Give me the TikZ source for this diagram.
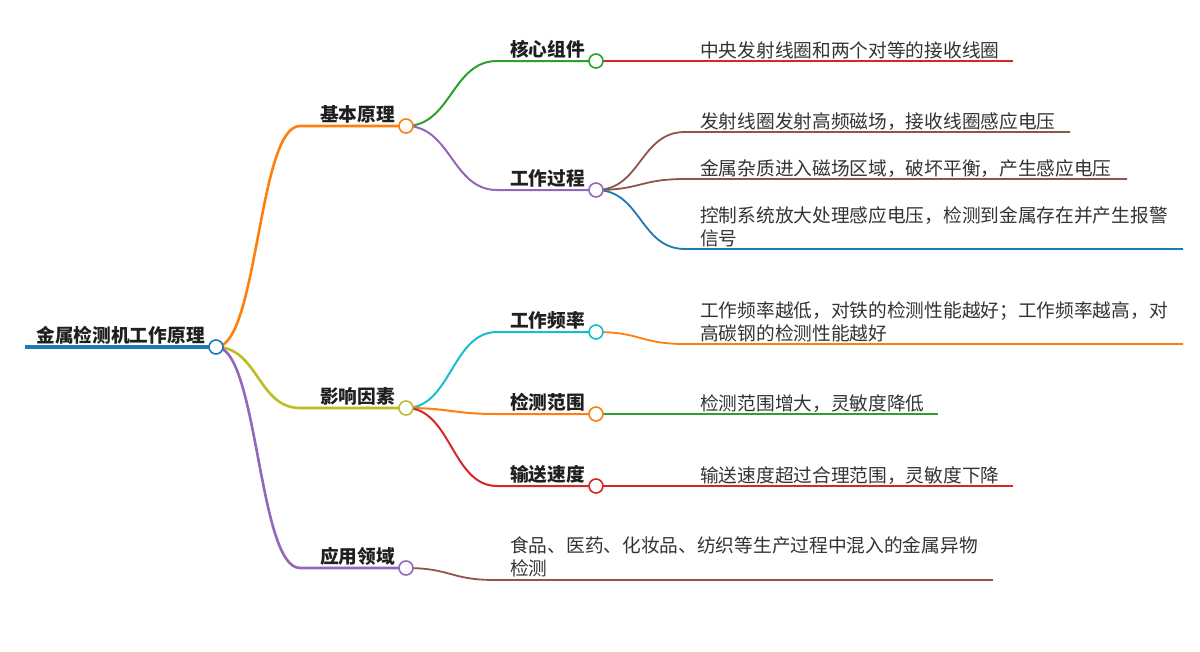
\documentclass[tikz,border=0pt]{standalone}
\usepackage{fontspec}
\setmainfont{Noto Sans CJK SC}
\usetikzlibrary{backgrounds}
\definecolor{tblue}{RGB}{31,119,180}
\definecolor{torange}{RGB}{255,127,14}
\definecolor{tgreen}{RGB}{44,160,44}
\definecolor{tred}{RGB}{214,39,40}
\definecolor{tpurple}{RGB}{148,103,189}
\definecolor{tbrown}{RGB}{140,86,75}
\definecolor{tolive}{RGB}{188,189,34}
\definecolor{tcyan}{RGB}{23,190,207}
\begin{document}
\begin{tikzpicture}[x=1pt,y=-1pt,
  dot/.style={circle,draw=#1,fill=white,line width=1.6pt,minimum size=14pt,inner sep=0pt},
  lbl/.style={font=\bfseries\fontsize{18.7}{23}\selectfont,text=black!88,anchor=base east,inner sep=0pt},
  leaf/.style={font=\fontsize{18.7}{23}\selectfont,text=black!80,anchor=base west,inner sep=0pt,align=left},
  lone/.style={line width=2.6pt,draw=#1},
  ltwo/.style={line width=2pt,draw=#1},
  lthree/.style={line width=1.8pt,draw=#1}]
\useasboundingbox (0,0) rectangle (1200,651);
% circles
\node[dot=tblue] (R) at (216,347) {};
\node[dot=torange] (B1) at (406,126) {};
\node[dot=tolive] (B2) at (406,408) {};
\node[dot=tpurple] (B3) at (406,568) {};
\node[dot=tgreen] (C1) at (596,61) {};
\node[dot=tpurple] (C2) at (596,190) {};
\node[dot=tcyan] (C3) at (596,332) {};
\node[dot=torange] (C4) at (596,414) {};
\node[dot=tred] (C5) at (596,486) {};
% coordinates
\coordinate (R0) at (25,347);
\coordinate (kB1) at (300,126);
\coordinate (kB2) at (300,408);
\coordinate (kB3) at (300,568);
\coordinate (kC1) at (497,61);
\coordinate (kC2) at (497,190);
\coordinate (kC3) at (497,332);
\coordinate (kC4) at (497,414);
\coordinate (kC5) at (497,486);
\coordinate (E1) at (1013,61);
\coordinate (k2) at (685,132);
\coordinate (E2) at (1070,132);
\coordinate (k3) at (685,179);
\coordinate (E3) at (1127,179);
\coordinate (k4) at (685,249);
\coordinate (E4) at (1183,249);
\coordinate (k5) at (685,344);
\coordinate (E5) at (1183,344);
\coordinate (E6) at (938,414);
\coordinate (E7) at (1013,486);
\coordinate (k8) at (495,580);
\coordinate (E8) at (993,580);
% labels
\node[lbl] (tR) at (205,342) {金属检测机工作原理};
\node[lbl] (tB1) at (395,121) {基本原理};
\node[lbl] (tB2) at (395,403) {影响因素};
\node[lbl] (tB3) at (395,563) {应用领域};
\node[lbl] (tC1) at (585,56) {核心组件};
\node[lbl] (tC2) at (585,185) {工作过程};
\node[lbl] (tC3) at (585,327) {工作频率};
\node[lbl] (tC4) at (585,409) {检测范围};
\node[lbl] (tC5) at (585,481) {输送速度};
% leaves
\node[leaf] (L1) at (700,57.5) {中央发射线圈和两个对等的接收线圈};
\node[leaf] (L2) at (700,128.5) {发射线圈发射高频磁场，接收线圈感应电压};
\node[leaf] (L3) at (700,175.5) {金属杂质进入磁场区域，破坏平衡，产生感应电压};
\node[leaf] (L4) at (700,245) {控制系统放大处理感应电压，检测到金属存在并产生报警\\信号};
\node[leaf] (L5) at (700,340) {工作频率越低，对铁的检测性能越好；工作频率越高，对\\高碳钢的检测性能越好};
\node[leaf] (L6) at (700,410) {检测范围增大，灵敏度降低};
\node[leaf] (L7) at (700,482) {输送速度超过合理范围，灵敏度下降};
\node[leaf] (L8) at (510,575) {食品、医药、化妆品、纺织等生产过程中混入的金属异物\\检测};
% connectors
\begin{pgfonlayer}{background}
\draw[line width=4pt,tblue] (R0) -- (R.center);
\draw[lone=torange] (R.center) .. controls +(42,0) and +(-42,0) .. (kB1) -- (B1.center);
\draw[lone=tolive] (R.center) .. controls +(42,0) and +(-42,0) .. (kB2) -- (B2.center);
\draw[lone=tpurple] (R.center) .. controls +(42,0) and +(-42,0) .. (kB3) -- (B3.center);
\draw[ltwo=tgreen] (B1.center) .. controls +(45,0) and +(-45,0) .. (kC1) -- (C1.center);
\draw[ltwo=tpurple] (B1.center) .. controls +(45,0) and +(-45,0) .. (kC2) -- (C2.center);
\draw[ltwo=tcyan] (B2.center) .. controls +(45,0) and +(-45,0) .. (kC3) -- (C3.center);
\draw[ltwo=torange] (B2.center) .. controls +(45,0) and +(-45,0) .. (kC4) -- (C4.center);
\draw[ltwo=tred] (B2.center) .. controls +(45,0) and +(-45,0) .. (kC5) -- (C5.center);
\draw[lthree=tred] (C1.center) -- (E1);
\draw[lthree=tbrown] (C2.center) .. controls +(45,0) and +(-45,0) .. (k2) -- (E2);
\draw[lthree=tbrown] (C2.center) .. controls +(45,0) and +(-45,0) .. (k3) -- (E3);
\draw[lthree=tblue] (C2.center) .. controls +(45,0) and +(-45,0) .. (k4) -- (E4);
\draw[lthree=torange] (C3.center) .. controls +(45,0) and +(-45,0) .. (k5) -- (E5);
\draw[lthree=tgreen] (C4.center) -- (E6);
\draw[lthree=tred] (C5.center) -- (E7);
\draw[lthree=tbrown] (B3.center) .. controls +(45,0) and +(-45,0) .. (k8) -- (E8);
\end{pgfonlayer}
\end{tikzpicture}
\end{document}
